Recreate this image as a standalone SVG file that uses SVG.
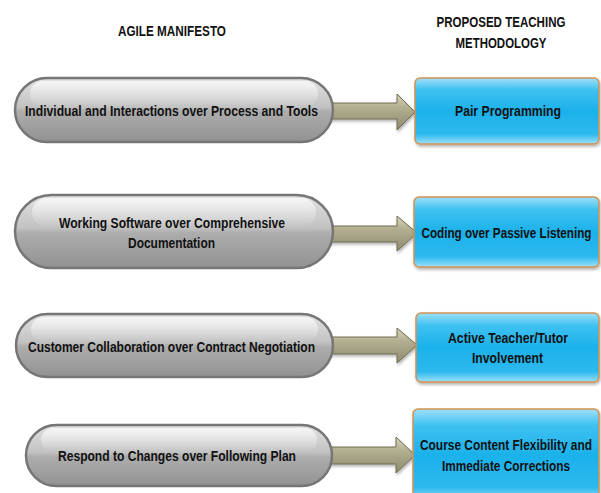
<svg xmlns="http://www.w3.org/2000/svg" width="601" height="493" viewBox="0 0 601 493">
<style>
.t{font-family:"Liberation Sans",Arial,sans-serif;font-weight:bold;font-size:15.5px;fill:#111;text-anchor:middle}
.h{font-family:"Liberation Sans",Arial,sans-serif;font-weight:bold;font-size:15px;fill:#111;text-anchor:middle}
.pill{fill:url(#gGray);stroke:#767676;stroke-width:2.5}
.gloss{fill:url(#gGloss)}
.box{fill:url(#gBlue);stroke:#d39150;stroke-width:1.5}
.arr{fill:url(#gArr);stroke:#6f6d52;stroke-width:1}
</style>
<defs>
<linearGradient id="gGray" x1="0" y1="0" x2="0" y2="1">
<stop offset="0" stop-color="#e2e2e2"/>
<stop offset="0.45" stop-color="#c2c2c2"/>
<stop offset="0.52" stop-color="#adadad"/>
<stop offset="1" stop-color="#929292"/>
</linearGradient>
<linearGradient id="gGloss" x1="0" y1="0" x2="0" y2="1">
<stop offset="0" stop-color="#ffffff" stop-opacity="0.7"/>
<stop offset="1" stop-color="#ffffff" stop-opacity="0"/>
</linearGradient>
<linearGradient id="gBlue" x1="0" y1="0" x2="0" y2="1">
<stop offset="0" stop-color="#9fe0f9"/>
<stop offset="0.18" stop-color="#3fc1f1"/>
<stop offset="0.5" stop-color="#1cb1ea"/>
<stop offset="0.85" stop-color="#2db9ee"/>
<stop offset="1" stop-color="#9fe0f9"/>
</linearGradient>
<linearGradient id="gArr" x1="0" y1="0" x2="0" y2="1">
<stop offset="0" stop-color="#d6d3bb"/>
<stop offset="0.35" stop-color="#b4b193"/>
<stop offset="1" stop-color="#8d8b6d"/>
</linearGradient>
<filter id="sh" x="-5%" y="-5%" width="115%" height="125%">
<feDropShadow dx="1" dy="2" stdDeviation="1.5" flood-color="#000" flood-opacity="0.3"/>
</filter>
</defs>

<g id="headers">
<text class="h" transform="scale(0.75,1)" x="229.33" y="36" textLength="144" lengthAdjust="spacingAndGlyphs">AGILE MANIFESTO</text>
<text class="h" transform="scale(0.75,1)" x="668" y="27" textLength="172" lengthAdjust="spacingAndGlyphs">PROPOSED TEACHING</text>
<text class="h" transform="scale(0.75,1)" x="668" y="48" textLength="121.33" lengthAdjust="spacingAndGlyphs">METHODOLOGY</text>
</g>

<g id="connectors">
<polygon class="arr" points="326,103 397,103 397,94 415,112 397,130 397,119 326,119" filter="url(#sh)"/>
<polygon class="arr" points="326,226 397,226 397,216 417,233 397,251 397,242 326,242" filter="url(#sh)"/>
<polygon class="arr" points="326,337 397,337 397,328 417,345 397,363 397,354 326,354" filter="url(#sh)"/>
<polygon class="arr" points="325,447 396,447 396,437 415,455 396,473 396,464 325,464" filter="url(#sh)"/>
</g>

<g id="agile1">
<rect class="pill" x="15" y="78" width="318" height="64" rx="32"/>
<rect class="gloss" x="30" y="81" width="288" height="26" rx="13"/>
<text class="t" transform="scale(0.75,1)" x="228.67" y="116.5" textLength="390.67" lengthAdjust="spacingAndGlyphs">Individual and Interactions over Process and Tools</text>
</g>
<g id="agile2">
<rect class="pill" x="15" y="195" width="318" height="73" rx="36.5"/>
<rect class="gloss" x="32" y="198" width="284" height="29" rx="14.5"/>
<text class="t" transform="scale(0.75,1)" x="229.33" y="228" textLength="301.33" lengthAdjust="spacingAndGlyphs">Working Software over Comprehensive</text>
<text class="t" transform="scale(0.75,1)" x="228.67" y="248" textLength="116" lengthAdjust="spacingAndGlyphs">Documentation</text>
</g>
<g id="agile3">
<rect class="pill" x="16" y="314" width="317" height="63" rx="31.5"/>
<rect class="gloss" x="31" y="317" width="287" height="25" rx="12.5"/>
<text class="t" transform="scale(0.75,1)" x="228.67" y="352" textLength="382.67" lengthAdjust="spacingAndGlyphs">Customer Collaboration over Contract Negotiation</text>
</g>
<g id="agile4">
<rect class="pill" x="26" y="425" width="306" height="61" rx="30.5"/>
<rect class="gloss" x="41" y="428" width="276" height="24" rx="12"/>
<text class="t" transform="scale(0.75,1)" x="236" y="461" textLength="317.33" lengthAdjust="spacingAndGlyphs">Respond to Changes over Following Plan</text>
</g>

<g id="teach1">
<rect class="box" x="415" y="78" width="184" height="66" rx="5" filter="url(#sh)"/>
<text class="t" transform="scale(0.75,1)" x="677.33" y="116.5" textLength="141.33" lengthAdjust="spacingAndGlyphs">Pair Programming</text>
</g>
<g id="teach2">
<rect class="box" x="414" y="197" width="185" height="70" rx="5" filter="url(#sh)"/>
<text class="t" transform="scale(0.75,1)" x="675.33" y="238" textLength="226.67" lengthAdjust="spacingAndGlyphs">Coding over Passive Listening</text>
</g>
<g id="teach3">
<rect class="box" x="416" y="313" width="183" height="69" rx="5" filter="url(#sh)"/>
<text class="t" transform="scale(0.75,1)" x="677.33" y="343" textLength="160" lengthAdjust="spacingAndGlyphs">Active Teacher/Tutor</text>
<text class="t" transform="scale(0.75,1)" x="676.67" y="363" textLength="94.67" lengthAdjust="spacingAndGlyphs">Involvement</text>
</g>
<g id="teach4">
<rect class="box" x="413" y="409" width="186" height="92" rx="5" filter="url(#sh)"/>
<text class="t" transform="scale(0.75,1)" x="674.67" y="450" textLength="229.33" lengthAdjust="spacingAndGlyphs">Course Content Flexibility and</text>
<text class="t" transform="scale(0.75,1)" x="674.67" y="471" textLength="170.67" lengthAdjust="spacingAndGlyphs">Immediate Corrections</text>
</g>
</svg>
